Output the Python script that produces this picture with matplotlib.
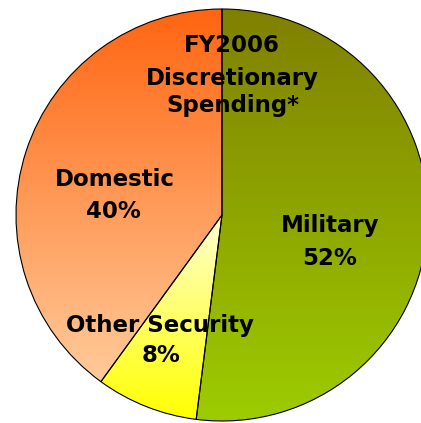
import numpy as np
import matplotlib
matplotlib.use("Agg")
import matplotlib.pyplot as plt
from matplotlib.colors import LinearSegmentedColormap

categories = ["Military", "Other Security", "Domestic"]
shares = [52, 8, 40]
top_colors = ["#808000", "#ffffd2", "#ff6511"]
bottom_colors = ["#9dcc00", "#ffff00", "#ffcb9a"]
title_lines = ["FY2006", "Discretionary", "Spending*"]

W, H = 421, 423
fig = plt.figure(figsize=(W / 100, H / 100), dpi=100)
ax = fig.add_axes([0, 0, 1, 1])

cx, cy, R = 222, H - 215, 206
wedges, _ = ax.pie(shares, startangle=90, counterclock=False, radius=R,
                   center=(cx, cy), frame=True,
                   wedgeprops=dict(facecolor="none", edgecolor="black", linewidth=0.8))
ax.set_xlim(0, W)
ax.set_ylim(0, H)
ax.set_aspect("equal")
ax.axis("off")

for w, c0, c1 in zip(wedges, top_colors, bottom_colors):
    bb = w.get_path().get_extents()
    cmap = LinearSegmentedColormap.from_list("g", [c1, c0])
    grad = np.linspace(0, 1, 256).reshape(-1, 1)
    im = ax.imshow(grad, cmap=cmap, origin="lower", aspect="auto",
                   extent=[bb.x0, bb.x1, bb.y0, bb.y1], zorder=1,
                   interpolation="bilinear")
    im.set_clip_path(w)
    w.set_zorder(2)
ax.set_xlim(0, W)
ax.set_ylim(0, H)

font = dict(family="DejaVu Sans", weight="bold", color="black",
            ha="center", va="baseline", fontsize=16.5, zorder=5)

# title lines (x center, baseline from top)
title_pos = [(232, 52), (232, 85), (233, 112)]
for (x, yb), t in zip(title_pos, title_lines):
    ax.text(x, H - yb, t, **font)

# slice labels: (name x, name baseline, pct x, pct baseline)
label_pos = [(330, 232, 330, 265), (160, 332, 161, 362), (115, 186, 113, 218)]
for (x1, y1, x2, y2), c, s in zip(label_pos, categories, shares):
    ax.text(x1, H - y1, c, **font)
    ax.text(x2, H - y2, f"{s}%", **font)

fig.savefig("out.png", dpi=100)
